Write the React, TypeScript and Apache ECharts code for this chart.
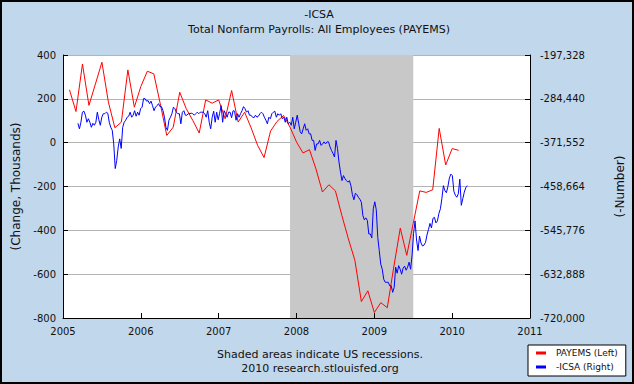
import React, { useEffect, useRef } from 'react';
import * as echarts from 'echarts';

const FONT = '"DejaVu Sans", Verdana, sans-serif';

// axes
const xYears = [2005, 2006, 2007, 2008, 2009, 2010, 2011];
const leftTicks = [-800, -600, -400, -200, 0, 200, 400];
const rightTicks = [-720000, -632888, -545776, -458664, -371552, -284440, -197328];

// recession (Dec 2007 - Jun 2009), in decimal years
const recession = [2007.917, 2009.5];

// PAYEMS monthly change, thousands, Feb 2005 .. Feb 2010
const payemsFirstMonth = 1; // months after Jan 2005
const payems = [
  241, 142, 359, 170, 268, 367, 185, 68, 94, 332, 162,
  256, 326, 314, 177, 33, 71, 230, 155, 102, 44, 195, 180,
  195, 109, 238, 94, 139, 68, -12, -68, 53, 97, 124, 71,
  3, -47, -32, -120, -225, -192, -220, -333, -439, -537, -725, -676,
  -775, -730, -753, -567, -390, -514, -368, -220, -227, -215, 65, -102,
  -27, -35,
];

// -ICSA weekly, thousands, from week ending 12 Mar 2005
const icsaFirstWeek = 2005.192;
const icsa2005to2006 = [
  -333, -344, -331, -311, -309, -317, -331, -324, -331, -341,
  -333, -337, -331, -311, -326, -337, -321, -314, -314, -311,
  -313, -331, -341, -347, -374, -423, -407, -380, -364, -383,
  -341, -331, -327, -321, -319, -311, -321, -317, -308, -319,
  -311, -317, -304, -301, -284, -284, -289, -288, -294, -289,
  -298, -308, -301, -298, -294, -300, -300, -308, -321, -341,
  -347, -327, -321, -314, -301, -304, -311, -314, -314, -334,
  -311, -308, -317, -317, -314, -314, -313, -314, -317, -314,
  -311, -314, -311, -311,
];
const icsa2006to2008 = [
  -311, -314, -321, -308, -331, -344, -321, -309, -331, -311,
  -326, -313, -298, -331, -308, -314, -321, -311, -311, -322,
  -308, -309, -327, -314, -321, -314, -308, -300, -304, -311,
  -308, -317, -317, -321, -322, -317, -321, -319, -314, -311,
  -314, -321, -327, -334, -321, -324, -314, -311, -309, -321,
  -314, -317, -314, -324, -321, -331, -321, -334, -331, -337,
  -321, -344, -331, -317, -334, -350, -354, -344, -334, -347,
  -344, -354, -354, -367, -367, -387, -374, -374, -367, -377,
  -374, -370, -374, -370, -370,
];
const icsa2008to2010 = [
  -380, -387, -393, -400, -367, -383, -410, -430, -447, -437,
  -443, -447, -450, -447, -457, -475, -485, -472, -475, -480,
  -484, -490, -516, -525, -521, -526, -553, -553, -561, -503,
  -489, -505, -560, -586, -613, -623, -643, -649, -649, -649,
  -656, -656, -669, -659, -619, -631, -616, -623, -633, -621,
  -617, -625, -619, -609, -623, -595, -552, -527, -565, -586,
  -557, -571, -577, -575, -570, -555, -544, -532, -541, -522,
  -520, -531, -527, -512, -503, -482, -457, -467, -471, -459,
  -442, -434, -437, -468, -476, -480, -473, -444, -496, -483,
  -470, -461, -457,
];

export default function App() {
  const ref = useRef<HTMLDivElement>(null);

  useEffect(() => {
    if (!ref.current) return;
    const chart = echarts.init(ref.current, undefined, { renderer: 'svg' });

    const redData = payems.map((v, i) => [2005 + (payemsFirstMonth + i) / 12, v]);
    const icsa = [...icsa2005to2006, ...icsa2006to2008, ...icsa2008to2010];
    const blueData = icsa.map((v, i) => [icsaFirstWeek + (i * 7) / 365.25, v * 1000]);

    const txt = (text: string, x: number, y: number, size: number) => ({
      type: 'text',
      x,
      y,
      silent: true,
      style: {
        text,
        align: 'center',
        verticalAlign: 'middle',
        font: `${size}px ${FONT}`,
        fill: '#111',
      },
    });

    chart.setOption({
      animation: false,
      backgroundColor: '#C1D7EB',
      textStyle: { fontFamily: FONT },
      grid: {
        left: 63,
        right: 103,
        top: 55,
        bottom: 66,
        show: true,
        backgroundColor: '#FFFFFF',
        borderWidth: 0,
      },
      graphic: [
        txt('-ICSA', 319, 14, 11),
        txt('Total Nonfarm Payrolls: All Employees (PAYEMS)', 319, 29, 11),
        txt('Shaded areas indicate US recessions.', 320, 354, 11),
        txt('2010 research.stlouisfed.org', 320, 368, 11),
        {
          type: 'rect',
          silent: true,
          z: 100,
          shape: { x: 1, y: 1, width: 632, height: 382 },
          style: { fill: 'none', stroke: '#000', lineWidth: 2 },
        },
      ],
      legend: {
        data: ['PAYEMS (Left)', '-ICSA (Right)'],
        orient: 'vertical',
        left: 528,
        top: 345,
        backgroundColor: '#FFFFFF',
        borderColor: '#000',
        borderWidth: 1,
        borderRadius: 0,
        padding: [2, 8, 3, 8],
        itemGap: 2,
        itemWidth: 10,
        itemHeight: 3,
        icon: 'rect',
        selectedMode: false,
        textStyle: { fontSize: 9, color: '#111', lineHeight: 12, padding: [0, 0, 0, 5], fontFamily: FONT },
      },
      xAxis: {
        type: 'value',
        min: xYears[0],
        max: xYears[xYears.length - 1],
        interval: 1,
        z: 5,
        axisLine: { show: true, onZero: false, lineStyle: { color: '#000', width: 1 } },
        axisTick: { show: true, inside: true, length: 5, lineStyle: { color: '#000' } },
        axisLabel: { fontSize: 10, color: '#111', margin: 8, formatter: (v: number) => String(v) },
        splitLine: { show: false },
      },
      yAxis: [
        {
          type: 'value',
          position: 'left',
          min: leftTicks[0],
          max: leftTicks[leftTicks.length - 1],
          interval: leftTicks[1] - leftTicks[0],
          name: '(Change, Thousands)',
          nameLocation: 'middle',
          nameGap: 41,
          nameTextStyle: { fontSize: 12, color: '#111' },
          axisLine: { show: true, onZero: false, lineStyle: { color: '#000', width: 1 } },
          axisTick: { show: true, inside: true, length: 5, lineStyle: { color: '#000' } },
          axisLabel: { fontSize: 10, color: '#111', margin: 7 },
          splitLine: { show: true, lineStyle: { color: '#B4B4B4', width: 1 } },
        },
        {
          type: 'value',
          position: 'right',
          min: rightTicks[0],
          max: rightTicks[rightTicks.length - 1],
          interval: rightTicks[1] - rightTicks[0],
          name: '(-Number)',
          nameLocation: 'middle',
          nameGap: 84,
          nameTextStyle: { fontSize: 12, color: '#111' },
          axisLine: { show: true, onZero: false, lineStyle: { color: '#000', width: 1 } },
          axisTick: { show: true, inside: true, length: 5, lineStyle: { color: '#000' } },
          axisLabel: {
            fontSize: 10,
            color: '#111',
            margin: 10,
            formatter: (v: number) => Math.round(v).toLocaleString('en-US'),
          },
          splitLine: { show: false },
        },
      ],
      series: [
        {
          name: 'recession',
          type: 'line',
          data: [],
          silent: true,
          z: 1,
          markArea: {
            silent: true,
            itemStyle: { color: '#C8C8C8' },
            data: [[{ xAxis: recession[0] }, { xAxis: recession[1] }]],
          },
        },
        {
          name: 'PAYEMS (Left)',
          type: 'line',
          yAxisIndex: 0,
          data: redData,
          symbol: 'none',
          z: 3,
          lineStyle: { color: '#FF0000', width: 1 },
          itemStyle: { color: '#FF0000' },
        },
        {
          name: '-ICSA (Right)',
          type: 'line',
          yAxisIndex: 1,
          data: blueData,
          symbol: 'none',
          z: 3,
          lineStyle: { color: '#0000FF', width: 1 },
          itemStyle: { color: '#0000FF' },
        },
      ],
    });

    return () => chart.dispose();
  }, []);

  return (
    <div
      ref={ref}
      style={{ position: 'fixed', left: 0, top: 0, width: 634, height: 384 }}
    />
  );
}
